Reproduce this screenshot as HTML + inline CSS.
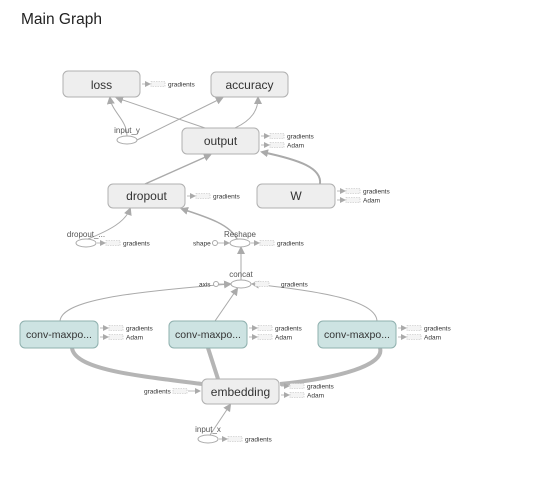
<!DOCTYPE html>
<html><head><meta charset="utf-8"><style>
html,body{margin:0;padding:0;background:#fff;width:534px;height:490px;overflow:hidden}
svg text{font-family:"Liberation Sans",sans-serif}
</style></head><body>
<svg width="534" height="490" viewBox="0 0 534 490" xmlns="http://www.w3.org/2000/svg">
<defs>
<marker id="a" markerWidth="6" markerHeight="6" refX="5" refY="3" orient="auto" markerUnits="userSpaceOnUse"><path d="M0,0L6,3L0,6z" fill="#aaa"/></marker>
<marker id="b" markerWidth="8" markerHeight="8" refX="6" refY="4" orient="auto" markerUnits="userSpaceOnUse"><path d="M0,0L8,4L0,8z" fill="#aaa"/></marker>
<g id="st"><line x1="0" y1="0" x2="8" y2="0" stroke="#aaa" stroke-width="0.8" marker-end="url(#a)"/><rect x="9" y="-2.5" width="14" height="5" fill="#f4f4f4" stroke="#bbb" stroke-width="0.6" stroke-dasharray="1.5,1"/></g>
</defs>
<text x="21" y="24" font-size="15.5" fill="#222">Main Graph</text>

<g fill="none" stroke="#aaa" stroke-width="1">
<path d="M127,136 C127,120 112,112 110,98" marker-end="url(#b)"/>
<path d="M137,140 L222,98" marker-end="url(#b)"/>
<path d="M205,128 L117,98" marker-end="url(#b)"/>
<path d="M235,128 C252,120 258,110 258,98" marker-end="url(#b)"/>
<path d="M145,184 L210,155" stroke-width="1.5" marker-end="url(#b)"/>
<path d="M320,184 C322,168 300,160 262,152" stroke-width="2" marker-end="url(#b)"/>
<path d="M88,239 C110,230 125,222 130,209" marker-end="url(#b)"/>
<path d="M237,239 C230,225 210,218 182,209" stroke-width="1.5" marker-end="url(#b)"/>
<path d="M241,280 L241,248" marker-end="url(#b)"/>
<path d="M60,321 C62,300 130,292 230,284" marker-end="url(#b)"/>
<path d="M215,321 L237,289" marker-end="url(#b)"/>
<path d="M377,321 C376,302 330,292 253,284" marker-end="url(#b)"/>
<path d="M210,435 L230,405" marker-end="url(#b)"/>
</g>
<g fill="none" stroke="#b5b5b5" stroke-width="4">
<path d="M202,384 C140,376 75,370 72,348"/>
<path d="M218,379 L208,348"/>
<path d="M280,384 C340,378 385,365 380,348"/>
</g>

<g font-size="12" fill="#333" text-anchor="middle" stroke-width="1">
<rect x="63" y="71" width="77" height="26" rx="5" fill="#eee" stroke="#b0b0b0"/><text x="101.5" y="89">loss</text>
<rect x="211" y="72" width="77" height="25" rx="5" fill="#eee" stroke="#b0b0b0"/><text x="249.5" y="89">accuracy</text>
<rect x="182" y="128" width="77" height="26" rx="5" fill="#eee" stroke="#b0b0b0"/><text x="220.5" y="145">output</text>
<rect x="108" y="184" width="77" height="24" rx="5" fill="#eee" stroke="#b0b0b0"/><text x="146.5" y="200">dropout</text>
<rect x="257" y="184" width="78" height="24" rx="5" fill="#eee" stroke="#b0b0b0"/><text x="296" y="200">W</text>
<rect x="202" y="379" width="77" height="25" rx="5" fill="#eee" stroke="#b0b0b0"/><text x="240.5" y="396">embedding</text>
<g font-size="10.5">
<rect x="20" y="321" width="78" height="27" rx="5" fill="#cde3e2" stroke="#8fb0ae"/><text x="59" y="338">conv-maxpo...</text>
<rect x="169" y="321" width="78" height="27" rx="5" fill="#cde3e2" stroke="#8fb0ae"/><text x="208" y="338">conv-maxpo...</text>
<rect x="318" y="321" width="78" height="27" rx="5" fill="#cde3e2" stroke="#8fb0ae"/><text x="357" y="338">conv-maxpo...</text>
</g>
</g>

<g fill="#fff" stroke="#aaa" stroke-width="1">
<ellipse cx="127" cy="140" rx="10" ry="4"/>
<ellipse cx="86" cy="243" rx="10" ry="4"/>
<ellipse cx="240" cy="243" rx="10" ry="4"/>
<ellipse cx="241" cy="284" rx="10" ry="4"/>
<ellipse cx="208" cy="439" rx="10" ry="4"/>
<circle cx="215" cy="243" r="2.5"/>
<circle cx="216" cy="284" r="2.5"/>
</g>
<g fill="none" stroke="#aaa" stroke-width="0.8">
<line x1="218" y1="243" x2="229" y2="243" marker-end="url(#a)"/>
<line x1="219" y1="284" x2="230" y2="284" marker-end="url(#a)"/>
<line x1="254" y1="284" x2="252" y2="284" marker-end="url(#a)"/>
<line x1="188" y1="391" x2="200" y2="391" marker-end="url(#a)"/>
</g>
<rect x="255" y="281.5" width="14" height="5" fill="#f4f4f4" stroke="#bbb" stroke-width="0.6" stroke-dasharray="1.5,1"/>
<rect x="173" y="388.5" width="14" height="5" fill="#f4f4f4" stroke="#bbb" stroke-width="0.6" stroke-dasharray="1.5,1"/>

<g font-size="8" fill="#555" text-anchor="middle">
<text x="127" y="133">input_y</text>
<text x="86" y="237">dropout_...</text>
<text x="240" y="237">Reshape</text>
<text x="241" y="277">concat</text>
<text x="208" y="432">input_x</text>
</g>

<g>
<use href="#st" x="142" y="84"/><use href="#st" x="261" y="136"/><use href="#st" x="261" y="145"/>
<use href="#st" x="187" y="196"/><use href="#st" x="337" y="191"/><use href="#st" x="337" y="200"/>
<use href="#st" x="97" y="243"/><use href="#st" x="251" y="243"/>
<use href="#st" x="100" y="328"/><use href="#st" x="100" y="337"/>
<use href="#st" x="249" y="328"/><use href="#st" x="249" y="337"/>
<use href="#st" x="398" y="328"/><use href="#st" x="398" y="337"/>
<use href="#st" x="281" y="386"/><use href="#st" x="281" y="395"/>
<use href="#st" x="219" y="439"/>
</g>
<g font-size="6.5" fill="#333">
<text x="168" y="86.5">gradients</text>
<text x="287" y="138.5">gradients</text><text x="287" y="147.5">Adam</text>
<text x="213" y="198.5">gradients</text>
<text x="363" y="193.5">gradients</text><text x="363" y="202.5">Adam</text>
<text x="123" y="245.5">gradients</text>
<text x="277" y="245.5">gradients</text>
<text x="193" y="245.5">shape</text>
<text x="199" y="286.5">axis</text>
<text x="281" y="286.5">gradients</text>
<text x="126" y="330.5">gradients</text><text x="126" y="339.5">Adam</text>
<text x="275" y="330.5">gradients</text><text x="275" y="339.5">Adam</text>
<text x="424" y="330.5">gradients</text><text x="424" y="339.5">Adam</text>
<text x="144" y="393.5">gradients</text>
<text x="307" y="388.5">gradients</text><text x="307" y="397.5">Adam</text>
<text x="245" y="441.5">gradients</text>
</g>
</svg>
</body></html>
